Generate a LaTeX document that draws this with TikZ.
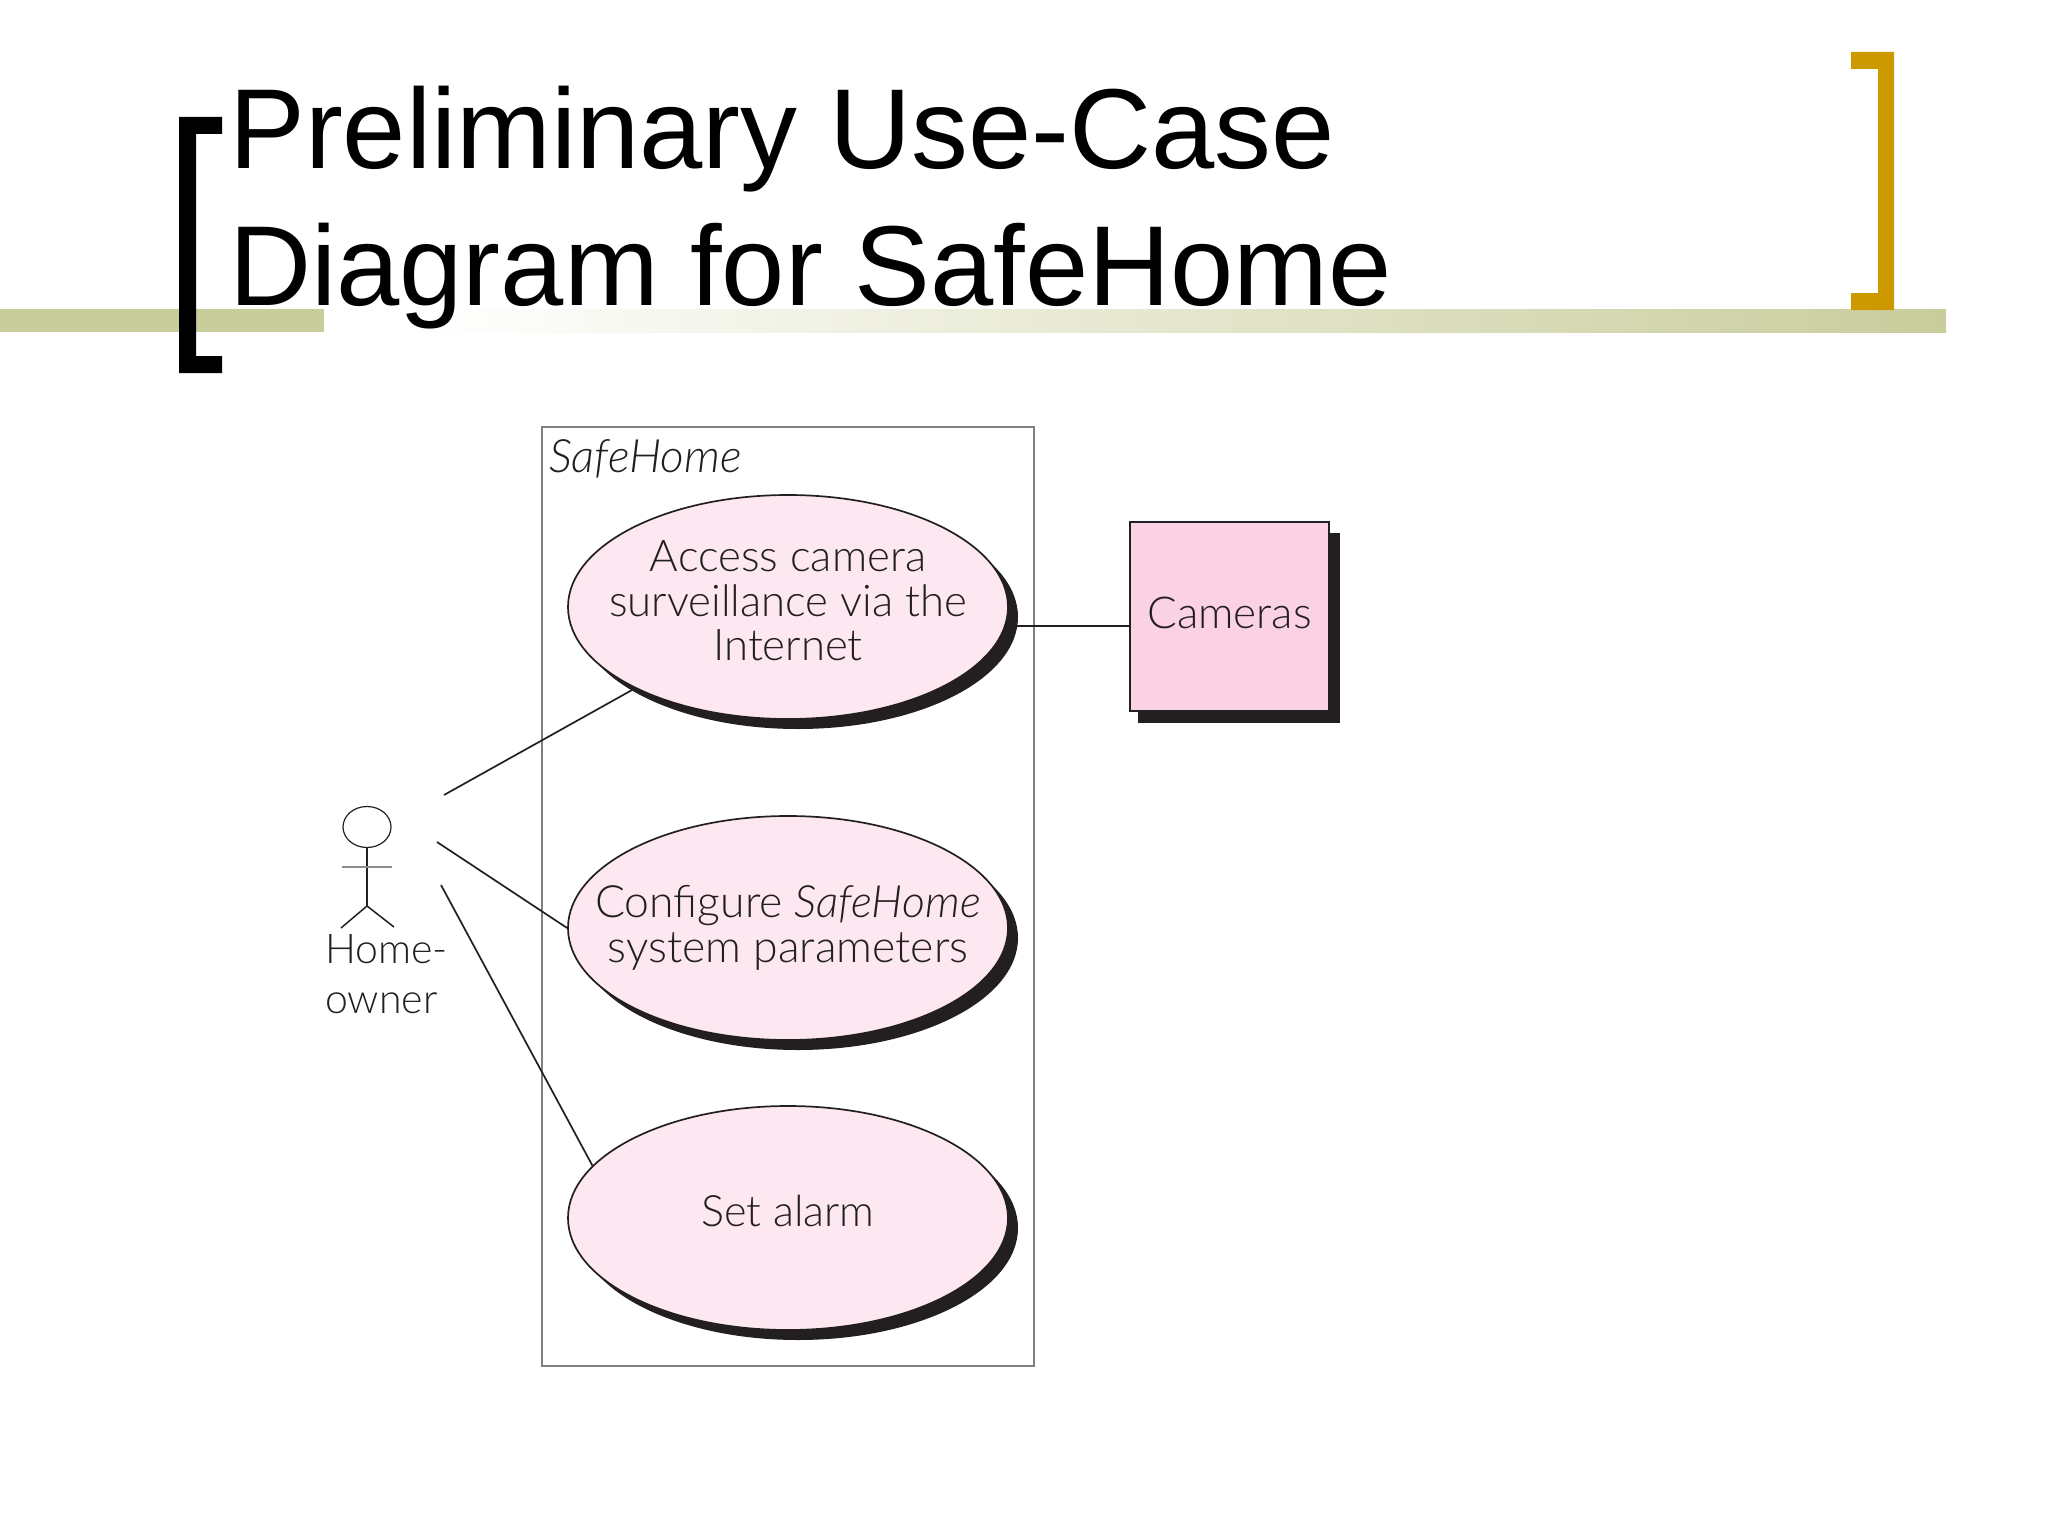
\documentclass[tikz,border=0pt]{standalone}
\usepackage{fontspec}
\setmainfont{Liberation Sans}
\newfontfamily\fu{Lato}[UprightFont=* Light,ItalicFont=* Light Italic]
\usetikzlibrary{shapes.geometric,shadows}
\definecolor{barc}{HTML}{C9CD9C}
\definecolor{gold}{HTML}{CC9900}
\definecolor{ink}{HTML}{231F20}
\definecolor{ellc}{HTML}{FDE8F2}
\definecolor{camc}{HTML}{FBD2E4}
\tikzset{
  usecase/.style={ellipse,draw=ink,line width=1.7pt,fill=ellc,minimum width=440pt,minimum height=224pt,inner xsep=-60pt,inner ysep=-10pt,
    align=center,text=ink,font=\fu\fontsize{43.7}{44.5}\selectfont,
    general shadow={shadow xshift=10pt,shadow yshift=-10pt,fill=ink}},
  link/.style={draw=ink,line width=1.7pt},
  limb/.style={draw=ink,line width=1.5pt},
}
\begin{document}
\begin{tikzpicture}[x=1pt,y=-1pt]
\useasboundingbox (0,0) rectangle (2048,1536);
% bar
\fill[barc] (0,309) rectangle (324,332);
\shade[left color=white,right color=barc,shading angle=90] (420,309) rectangle (1946,332);
% brackets
\fill[black] (222,117) -- (179,117) -- (179,373) -- (222,373) -- (222,356) -- (196,356) -- (196,134) -- (222,134) -- cycle;
\fill[gold] (1851,52) -- (1894,52) -- (1894,310) -- (1851,310) -- (1851,293) -- (1878,293) -- (1878,69) -- (1851,69) -- cycle;
\node (title) [anchor=base west,inner sep=0pt,align=left,font=\fontsize{113.7}{137}\selectfont] at (229,305) {Preliminary Use-Case\\Diagram for SafeHome};
% system box
\node (sys) [draw=black!50,line width=2.5pt,minimum width=492pt,minimum height=939pt,inner sep=0pt] at (788,896.5) {};
\node (syslabel) [anchor=base west,inner sep=0pt,text=ink,font=\fu\itshape\fontsize{46}{46}\selectfont] at (549,472) {SafeHome};
% camera box
\node (camsh) [fill=ink,minimum width=202pt,minimum height=190pt,inner sep=0pt] at (1239,628) {};
\node (cam) [draw=ink,line width=1.5pt,fill=camc,minimum width=199pt,minimum height=189pt,inner sep=0pt,text=ink,text depth=8pt,font=\fu\fontsize{44}{44}\selectfont] at (1229.5,616.5) {Cameras};
% use cases
\coordinate (a1) at (444,795);
\coordinate (a2) at (437,842);
\coordinate (a3) at (441,885);
\node (e1) [usecase,text depth=12pt] at (788,607) {Access camera\\surveillance via the\\Internet};
\node (e2) [usecase,font=\fu\fontsize{44.5}{44.5}\selectfont] at (788,928) {Configure {\itshape SafeHome}\\system parameters};
\node (e3) [usecase,text depth=14pt,font=\fu\fontsize{43.2}{44}\selectfont] at (788,1218) {Set alarm};
\draw[link] (a1) -- (e1.208);
\draw[link] (a2) -- (e2.west);
\draw[link] (a3) -- (e3.165);
\draw[link] (e1.-5) ++(10,0) -- (e1.-5 -| cam.west);
% actor
\node (head) [ellipse,draw=ink,line width=1.2pt,minimum width=48pt,minimum height=41pt,inner sep=0pt] at (367,827) {};
\coordinate (hip) at (367,906);
\coordinate (armL) at (342,867);
\coordinate (armR) at (392,867);
\coordinate (legL) at (341,928);
\coordinate (legR) at (394,927);
\draw[limb] (head.south) -- (hip);
\draw[draw=black!45,line width=2.5pt] (armL) -- (armR);
\draw[limb] (legL) -- (hip) -- (legR);
\node (actor) [anchor=base west,inner sep=0pt,align=left,text=ink,font=\fu\fontsize{41}{50}\selectfont] at (325,1013) {Home-\\owner};
\end{tikzpicture}
\end{document}
